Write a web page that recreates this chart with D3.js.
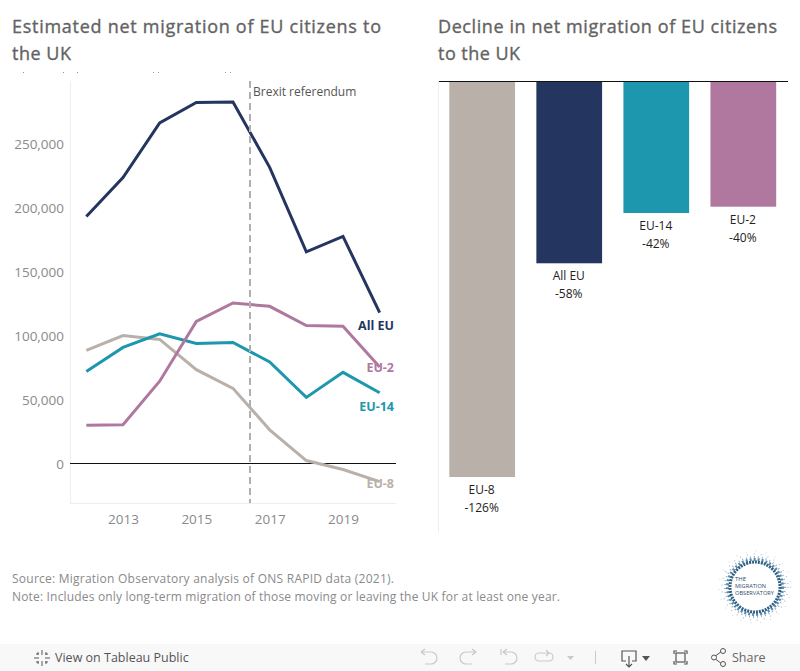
<!DOCTYPE html>
<html><head><meta charset="utf-8">
<script src="https://cdnjs.cloudflare.com/ajax/libs/d3/7.8.5/d3.min.js"></script>
<style>
html,body{margin:0;padding:0;background:#fff;overflow:hidden}
svg{display:block}
text{font-family:"Open Sans",sans-serif}
</style></head><body>
<svg id="c" width="800" height="671"></svg>
<script>
const years=[2012,2013,2014,2015,2016,2017,2018,2019,2020];
const allEU=[193300,223800,266500,282500,282800,231800,165800,177800,118300];
const eu2=[30200,30700,64700,111400,125800,123200,108200,107700,75700];
const eu14=[72300,91100,101700,94200,95000,79700,52000,71600,55700];
const eu8=[88700,100400,97300,73700,59100,26700,2700,-4300,-13800];
const yTicks=[0,50000,100000,150000,200000,250000];
const xTicks=[2013,2015,2017,2019];
const barCats=["EU-8","All EU","EU-14","EU-2"];
const barVals=[-126,-58,-42,-40];
const colors={"All EU":"#24365f","EU-2":"#b0789f","EU-14":"#1d97ae","EU-8":"#b9b0aa"};

const svg=d3.select("#c");
const t=(s,x,y,size,fill,anchor,weight)=>svg.append("text").text(s).attr("x",x).attr("y",y)
  .attr("font-size",size).attr("fill",fill).attr("text-anchor",anchor||"start").attr("font-weight",weight||400);

// titles
const title=(s,x,y,len)=>t(s,x,y,18,"#636363").attr("textLength",len).attr("stroke","#636363").attr("stroke-width",0.35);
title("Estimated net migration of EU citizens to",12,33,369);
title("the UK",12,60,59);
title("Decline in net migration of EU citizens",438,33,339);
title("to the UK",438,60,82);
// tips of a clipped line of text under the title
svg.selectAll(".frag").data([23,63,77,153,158,225,230]).join("rect").attr("class","frag")
  .attr("x",d=>d).attr("y",72).attr("width",1).attr("height",1).attr("fill","#999");

// line chart
const x=d3.scaleLinear().domain([2013,2019]).range([123,343]);
const y=d3.scaleLinear().domain([0,250000]).range([464,144]);
svg.append("line").attr("x1",70.5).attr("x2",70.5).attr("y1",81).attr("y2",503).attr("stroke","#eeeeee");
svg.append("line").attr("x1",70).attr("x2",396).attr("y1",503.5).attr("y2",503.5).attr("stroke","#eeeeee");

const yAxis=d3.axisLeft(y).tickValues(yTicks).tickFormat(d3.format(",")).tickSize(0).tickPadding(6);
const gy=svg.append("g").attr("transform","translate(70,0)").call(yAxis);
gy.select(".domain").remove();
gy.selectAll("text").attr("font-size",13.5).attr("fill","#8a8a8a").style("font-family",'"Open Sans",sans-serif');
const xAxis=d3.axisBottom(x).tickValues(xTicks).tickFormat(d3.format("d")).tickSize(0).tickPadding(0);
const gx=svg.append("g").attr("transform","translate(0,514)").call(xAxis);
gx.select(".domain").remove();
gx.selectAll("text").attr("font-size",13.5).attr("fill","#8a8a8a").style("font-family",'"Open Sans",sans-serif');

svg.append("line").attr("x1",70).attr("x2",396).attr("y1",y(0)-0.5).attr("y2",y(0)-0.5).attr("stroke","#111").attr("stroke-width",1);

const line=d3.line().x((d,i)=>x(years[i])).y(d=>y(d));
[["EU-8",eu8],["EU-14",eu14],["EU-2",eu2],["All EU",allEU]].forEach(([k,v])=>{
  svg.append("path").attr("d",line(v)).attr("fill","none").attr("stroke",colors[k]).attr("stroke-width",3).attr("stroke-linejoin","miter");
});
// referendum
svg.append("line").attr("x1",250).attr("x2",250).attr("y1",81).attr("y2",503)
  .attr("stroke","#b0b0b0").attr("stroke-width",2).attr("stroke-dasharray","7 4");
t("Brexit referendum",253,96,12,"#555555");
// line labels
t("All EU",394,330,12.5,colors["All EU"],"end",700);
t("EU-2",394,372,12.5,colors["EU-2"],"end",700);
t("EU-14",394,411,12.5,colors["EU-14"],"end",700);
t("EU-8",394,488,12.5,colors["EU-8"],"end",700);

// bars
const bx=d3.scaleBand().domain(barCats).range([438,787.5]).paddingInner(0.245).paddingOuter(0.13);
const by=d3.scaleLinear().domain([0,-126]).range([81,477]);
svg.append("line").attr("x1",438.5).attr("x2",438.5).attr("y1",81).attr("y2",532).attr("stroke","#eeeeee");
svg.selectAll(".bar").data(barCats).join("rect").attr("class","bar")
  .attr("x",d=>bx(d)).attr("width",bx.bandwidth()).attr("y",by(0))
  .attr("height",(d,i)=>by(barVals[i])-by(0)).attr("fill",d=>colors[d]);
svg.append("line").attr("x1",439).attr("x2",788).attr("y1",81.5).attr("y2",81.5).attr("stroke","#111").attr("stroke-width",1);
barCats.forEach((c,i)=>{
  const cx=bx(c)+bx.bandwidth()/2-0.5, b=by(barVals[i]);
  t(c,cx,b+17,12,"#222","middle");
  t(barVals[i]+"%",cx,b+35,12,"#222","middle");
});

// notes
t("Source: Migration Observatory analysis of ONS RAPID data (2021).",12,583,12,"#8a8a8a").attr("textLength",382);
t("Note: Includes only long-term migration of those moving or leaving the UK for at least one year.",12,601,12,"#8a8a8a").attr("textLength",548);

// logo
const defs=svg.append("defs");
defs.append("filter").attr("id","soft").append("feGaussianBlur").attr("stdDeviation",0.45);
const logo=svg.append("g").attr("transform","translate(755,587)");
const ring=logo.append("g").attr("filter","url(#soft)");
[[36,"#cfdce5",1.2,"1 9"],[33,"#b5c9d7",1.5,"1 6"],[30,"#8fb0c6",2,"1 3"],[27.5,"#5b89a8",3,"2 2"],[25,"#2f5f84",3,"2 1"]].forEach(([r,c,w,da])=>
  ring.append("circle").attr("r",r).attr("fill","none").attr("stroke",c).attr("stroke-width",w).attr("stroke-dasharray",da));
[["THE",-20,-6],["MIGRATION",-20,1],["OBSERVATORY",-20,8]].forEach(([s,a,b])=>
  logo.append("text").text(s).attr("x",a).attr("y",b).attr("font-size",5).attr("fill","#2b4a6a")
   .attr("textLength",s=="THE"?11:s=="MIGRATION"?31:39).attr("lengthAdjust","spacingAndGlyphs"));

// toolbar
svg.append("rect").attr("x",0).attr("y",644).attr("width",800).attr("height",27).attr("fill","#f8f8f8");
const tg=svg.append("g").attr("transform","translate(42,658)").attr("stroke","#666").attr("stroke-width",1.1);
[[0,-8,0,-3],[0,3,0,8],[-8,0,-3,0],[3,0,8,0],[-4,-6,-4,-3],[4,-6,4,-3],[-4,3,-4,6],[4,3,4,6],[-6,-4,-3,-4],[3,-4,6,-4],[-6,4,-3,4],[3,4,6,4]].forEach(l=>
  tg.append("line").attr("x1",l[0]).attr("y1",l[1]).attr("x2",l[2]).attr("y2",l[3]));
t("View on Tableau Public",55,662,12.5,"#555","start",500);
const icon=(d,c,w)=>svg.append("path").attr("d",d).attr("fill","none").attr("stroke",c).attr("stroke-width",w||1.2);
const g="#c9c9c9";
icon("M421 652h10a6 6 0 0 1 0 12h-6M421 652l4-3M421 652l4 3",g);
icon("M476 652h-10a6 6 0 0 0 0 12h6M476 652l-4-3M476 652l-4 3",g);
icon("M501 649v6M503 652h8a6 6 0 0 1 0 12h-6M503 652l4-3M503 652l4 3",g);
icon("M540 653h9a4 4 0 0 1 0 8h-10a4 4 0 0 1 0-8h1M549 653l-3-3M549 653l-3 3",g);
svg.append("path").attr("d","M567 656h7l-3.500 4z").attr("fill",g);
svg.append("line").attr("x1",595.5).attr("x2",595.5).attr("y1",651).attr("y2",664).attr("stroke",g);
icon("M626 661h-4v-10h14v10h-4M629 656v10M626 664l3 3 3-3","#555");
svg.append("path").attr("d","M642 656h8l-4 5z").attr("fill","#555");
icon("M674 654v-3h3M684 651h3v3M687 661v3h-3M677 664h-3v-3","#555");
svg.append("rect").attr("x",676).attr("y",653).attr("width",9).attr("height",9).attr("fill","none").attr("stroke","#555").attr("stroke-width",1.2);
icon("M722 651l-8 6M714 658l8 6","#555",1);
[[723,651],[714,657.5],[723,664]].forEach(p=>svg.append("circle").attr("cx",p[0]).attr("cy",p[1]).attr("r",2.5).attr("fill","#f8f8f8").attr("stroke","#555").attr("stroke-width",1));
t("Share",732,662,12.5,"#666","start",500);
</script>
</body></html>
